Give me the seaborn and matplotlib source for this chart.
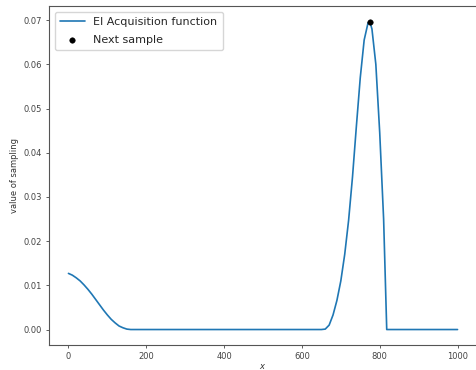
import matplotlib
matplotlib.use("Agg")
import matplotlib.pyplot as plt
import seaborn as sns
import pandas as pd

x_vals = [0, 10, 20, 30, 40, 50, 60, 70, 80, 90, 100, 110, 120, 130, 140, 150, 160,
          650, 660, 670, 680, 690, 700, 710, 720, 730, 740, 750, 760, 770, 775, 780,
          790, 800, 810, 818, 1000]
ei_vals = [0.0127, 0.0123, 0.0117, 0.0110, 0.0101, 0.0091, 0.0080, 0.0068, 0.0056,
           0.0044, 0.0033, 0.0023, 0.0015, 0.0008, 0.0004, 0.0001, 0.0,
           0.0, 0.0001, 0.0010, 0.0033, 0.0066, 0.0110, 0.0170, 0.0247, 0.0345,
           0.0460, 0.0570, 0.0655, 0.0694, 0.0695, 0.0680, 0.0600, 0.0445, 0.0250,
           0.0, 0.0]
next_x = [775]
next_y = [0.0695]

df = pd.DataFrame({"x": x_vals, "ei": ei_vals})
nxt = pd.DataFrame({"x": next_x, "y": next_y})

sns.set_style("white")
fig = plt.figure(figsize=(4.76, 3.70), dpi=100)
ax = fig.add_axes([49/476, 25/370, 428/476, 339/370])

sns.lineplot(data=df, x="x", y="ei", ax=ax, color="#1f77b4", linewidth=1.2,
             label="EI Acquisition function")
sns.scatterplot(data=nxt, x="x", y="y", ax=ax, color="black", s=16, zorder=5,
                edgecolor="black", label="Next sample")

ax.set_xlim(-50, 1050)
ax.set_ylim(-0.0035, 0.0732)
ax.set_xticks([0, 200, 400, 600, 800, 1000])
ax.set_yticks([0.0, 0.01, 0.02, 0.03, 0.04, 0.05, 0.06, 0.07])
ax.set_yticklabels(["0.00", "0.01", "0.02", "0.03", "0.04", "0.05", "0.06", "0.07"])
ax.tick_params(axis="both", labelsize=6, length=2.5, width=0.6, colors="#444444",
               left=True, bottom=True, pad=2.5)
for sp in ax.spines.values():
    sp.set_color("#555555")
    sp.set_linewidth(0.8)
ax.set_xlabel("$x$", fontsize=6, labelpad=1, color="#333333")
ax.set_ylabel("value of sampling", fontsize=6, labelpad=3, color="#333333")
ax.legend(loc="upper left", fontsize=8, frameon=True, borderpad=0.5,
          handlelength=2.2, labelspacing=0.7, borderaxespad=0.5)

fig.savefig("out.png", dpi=100)
